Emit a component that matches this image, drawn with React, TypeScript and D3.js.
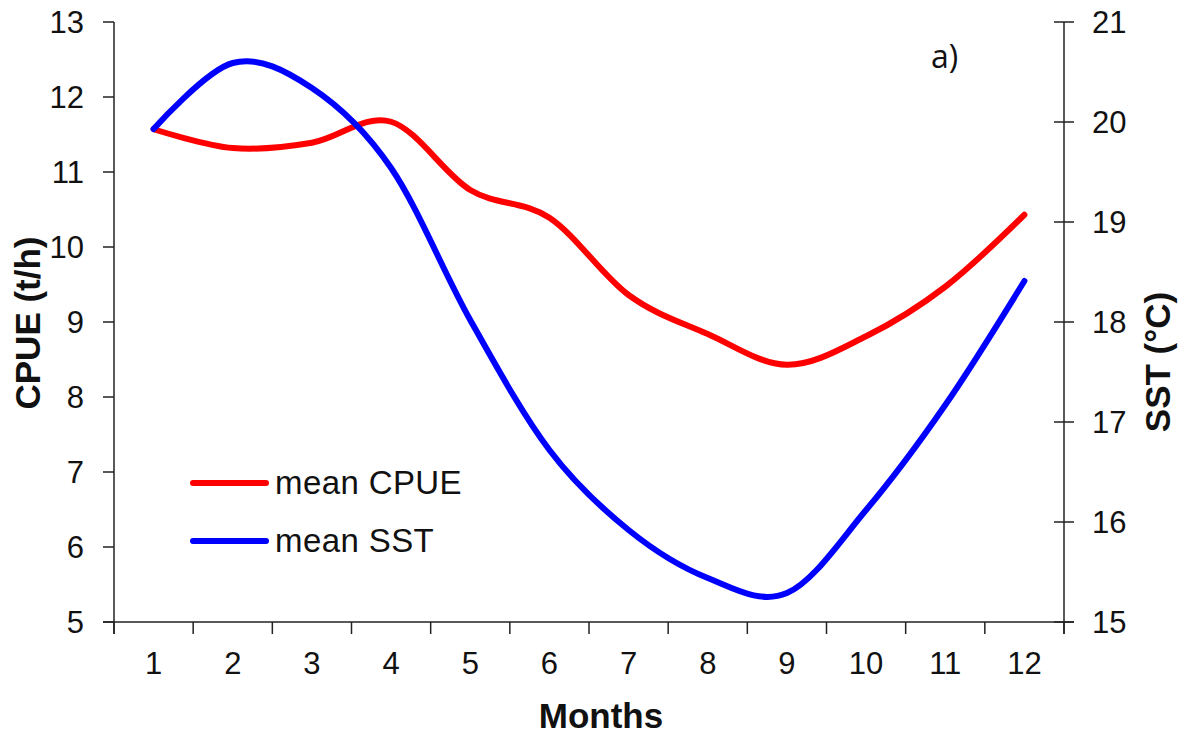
import React from "react";
import * as d3 from "d3";

const months = [1, 2, 3, 4, 5, 6, 7, 8, 9, 10, 11, 12];
const cpue = [11.57, 11.32, 11.39, 11.67, 10.76, 10.39, 9.36, 8.84, 8.43, 8.81, 9.47, 10.43];
const sst = [19.93, 20.59, 20.34, 19.54, 18.02, 16.72, 15.92, 15.44, 15.29, 16.12, 17.17, 18.41];
const leftTicks = [5, 6, 7, 8, 9, 10, 11, 12, 13];
const rightTicks = [15, 16, 17, 18, 19, 20, 21];

const W = 1185;
const H = 737;
const L = 114;
const R = 1064;
const T = 22;
const B = 622;

export default function App() {
  const x = d3.scaleBand<number>().domain(months).range([L, R]);
  const cx = (m: number) => (x(m) as number) + x.bandwidth() / 2;
  const yL = d3.scaleLinear().domain([5, 13]).range([B, T]);
  const yR = d3.scaleLinear().domain([15, 21]).range([B, T]);
  const curve = d3.curveCatmullRom.alpha(0);
  const lineL = d3.line<number>().x((_, i) => cx(months[i])).y((d) => yL(d)).curve(curve);
  const lineR = d3.line<number>().x((_, i) => cx(months[i])).y((d) => yR(d)).curve(curve);
  const font = "'Liberation Sans', Arial, sans-serif";
  const axisColor = "#222";
  const bounds = d3.range(months.length + 1).map((i) => L + i * x.step());

  return (
    <svg width={W} height={H} style={{ position: "absolute", left: 0, top: 0, background: "#fff" }}>
      {/* axes */}
      <line x1={L} y1={T} x2={L} y2={B + 12} stroke={axisColor} strokeWidth={1.5} />
      <line x1={R} y1={T} x2={R} y2={B + 12} stroke={axisColor} strokeWidth={1.5} />
      <line x1={L - 11} y1={B} x2={R + 10} y2={B} stroke={axisColor} strokeWidth={1.5} />
      {leftTicks.map((t) => (
        <g key={"l" + t}>
          <line x1={L - 11} x2={L} y1={yL(t)} y2={yL(t)} stroke={axisColor} strokeWidth={1.5} />
          <text x={84} y={yL(t)} dy="0.36em" textAnchor="end" fontFamily={font} fontSize={31} fill="#111">
            {t}
          </text>
        </g>
      ))}
      {rightTicks.map((t) => (
        <g key={"r" + t}>
          <line x1={R - 10} x2={R + 10} y1={yR(t)} y2={yR(t)} stroke={axisColor} strokeWidth={1.5} />
          <text x={1092} y={yR(t)} dy="0.36em" textAnchor="start" fontFamily={font} fontSize={31} fill="#111">
            {t}
          </text>
        </g>
      ))}
      {bounds.map((b, i) => (
        <line key={"b" + i} x1={b} x2={b} y1={B} y2={B + 12} stroke={axisColor} strokeWidth={1.5} />
      ))}
      {months.map((m) => (
        <text key={"m" + m} x={cx(m)} y={674} textAnchor="middle" fontFamily={font} fontSize={31} fill="#111">
          {m}
        </text>
      ))}
      {/* titles */}
      <text x={601} y={728} textAnchor="middle" fontFamily={font} fontSize={35} fontWeight="bold" fill="#111">
        Months
      </text>
      <text
        transform={`translate(40,323) rotate(-90)`}
        textAnchor="middle"
        fontFamily={font}
        fontSize={35}
        fontWeight="bold"
        fill="#111"
      >
        CPUE (t/h)
      </text>
      <text
        transform={`translate(1170,362) rotate(-90)`}
        textAnchor="middle"
        fontFamily={font}
        fontSize={35}
        fontWeight="bold"
        fill="#111"
      >
        SST (°C)
      </text>
      <text x={931} y={68} fontFamily="'Open Sans', 'Noto Sans', sans-serif" fontSize={32} fill="#111">
        a)
      </text>
      {/* lines */}
      <path d={lineL(cpue) || ""} fill="none" stroke="#ff0000" strokeWidth={6} strokeLinecap="round" />
      <path d={lineR(sst) || ""} fill="none" stroke="#0000ff" strokeWidth={6} strokeLinecap="round" />
      {/* legend */}
      <line x1={193} x2={266} y1={483} y2={483} stroke="#ff0000" strokeWidth={6} strokeLinecap="round" />
      <text x={275} y={494} fontFamily={font} fontSize={33} letterSpacing={0.4} fill="#111">
        mean CPUE
      </text>
      <line x1={193} x2={266} y1={541} y2={541} stroke="#0000ff" strokeWidth={6} strokeLinecap="round" />
      <text x={275} y={552} fontFamily={font} fontSize={33} letterSpacing={0.4} fill="#111">
        mean SST
      </text>
    </svg>
  );
}
